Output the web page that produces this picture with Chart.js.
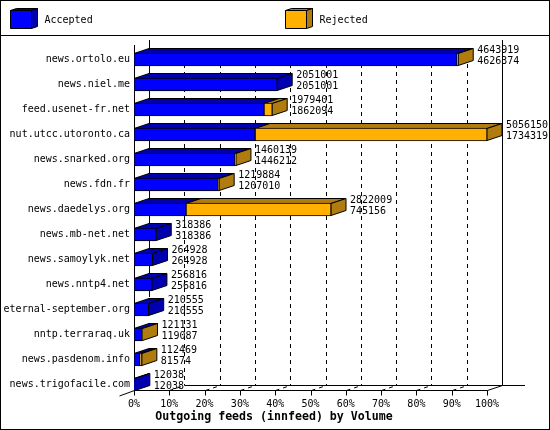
<!DOCTYPE html>
<html>
<head>
<meta charset="utf-8">
<title>Outgoing feeds</title>
<script src="https://cdn.jsdelivr.net/npm/chart.js@4/dist/chart.umd.min.js"></script>
<style>
    html, body { margin: 0; padding: 0; background: #fff; }
    canvas { display: block; }
</style>
</head>
<body>
<canvas id="feeds-chart" width="550" height="430"></canvas>
<script>
const categories = ['news.ortolo.eu', 'news.niel.me', 'feed.usenet-fr.net', 'nut.utcc.utoronto.ca',
    'news.snarked.org', 'news.fdn.fr', 'news.daedelys.org', 'news.mb-net.net', 'news.samoylyk.net',
    'news.nntp4.net', 'eternal-september.org', 'nntp.terraraq.uk', 'news.pasdenom.info', 'news.trigofacile.com'];
const offered = [4643919, 2051001, 1979401, 5056150, 1460139, 1219884, 2822009,
    318386, 264928, 256816, 210555, 121131, 112469, 12038];
const accepted = [4626374, 2051001, 1862094, 1734319, 1446212, 1207010, 745156,
    318386, 264928, 256816, 210555, 119087, 81574, 12038];
const rejected = offered.map((v, i) => v - accepted[i]);
const xTickLabels = ['0%', '10%', '20%', '30%', '40%', '50%', '60%', '70%', '80%', '90%', '100%'];
const xTitle = 'Outgoing feeds (innfeed) by Volume';

const FONT = '"DejaVu Sans Mono", monospace';
const BLUE = '#0000ff', BLUE_DARK = '#0000b0';
const ORANGE = '#ffb000', ORANGE_DARK = '#b07c10';
const DX = 15, DY = 5;

function poly(ctx, pts, fill) {
    ctx.beginPath();
    pts.forEach((p, i) => i ? ctx.lineTo(p[0], p[1]) : ctx.moveTo(p[0], p[1]));
    ctx.closePath();
    ctx.fillStyle = fill;
    ctx.fill();
    ctx.stroke();
}

function line(ctx, x0, y0, x1, y1) {
    ctx.beginPath();
    ctx.moveTo(x0, y0);
    ctx.lineTo(x1, y1);
    ctx.stroke();
}

function legendCube(ctx, x, label, front, dark) {
    const x1 = x + 21, top = 10.5, bottom = 28.5;
    poly(ctx, [[x, top], [x + 6, top - 2], [x1 + 6, top - 2], [x1, top]], dark);
    poly(ctx, [[x1, top], [x1 + 6, top - 2], [x1 + 6, bottom - 2], [x1, bottom]], dark);
    poly(ctx, [[x, top], [x1, top], [x1, bottom], [x, bottom]], front);
    ctx.fillStyle = '#000';
    ctx.font = '10px ' + FONT;
    ctx.textAlign = 'left';
    ctx.textBaseline = 'middle';
    ctx.fillText(label, x1 + 13, 20);
}

// frame, legend, back wall and floor go under the bars
const backdrop = {
    id: 'backdrop',
    beforeDatasetsDraw(chart) {
        const ctx = chart.ctx, xs = chart.scales.x;
        const floor = 390.5, back = floor - DY;
        ctx.save();
        ctx.strokeStyle = '#000';
        ctx.lineWidth = 1;

        ctx.lineWidth = 2;
        ctx.strokeRect(0, 0, 550, 430);
        ctx.lineWidth = 1;
        line(ctx, 0, 35.5, 550, 35.5);

        legendCube(ctx, 10.5, chart.data.datasets[0].label, BLUE, BLUE_DARK);
        legendCube(ctx, 285.5, chart.data.datasets[1].label, ORANGE, ORANGE_DARK);

        const px = xs.ticks.map(t => Math.round(xs.getPixelForValue(t.value)) + 0.5);
        const last = px.length - 1;

        // walls
        line(ctx, px[0], 45, px[0], floor);
        line(ctx, px[0] + DX, 40, px[0] + DX, 297);
        line(ctx, px[last] + DX, 40, px[last] + DX, back);

        // floor
        line(ctx, px[0], floor, px[last], floor);
        line(ctx, px[1] + DX, back, 525, back);
        line(ctx, px[0] - DX, floor + DY + 0.5, px[0], floor);
        line(ctx, px[last], floor, px[last] + DX, back);

        px.forEach((x, i) => {
            line(ctx, x, floor, x, floor + 5);
            if (i === 0 || i === last) return;
            ctx.setLineDash([4, 4]);
            line(ctx, x + DX, 48, x + DX, back);
            line(ctx, x, floor, x + DX, back);
            ctx.setLineDash([]);
        });

        // top and side faces of the bars
        const metas = [chart.getDatasetMeta(0), chart.getDatasetMeta(1)];
        const darks = [BLUE_DARK, ORANGE_DARK];
        categories.forEach((c, i) => {
            let end = null, endDark = BLUE_DARK, top = 0, bottom = 0;
            metas.forEach((meta, d) => {
                if (chart.data.datasets[d].data[i] <= 0) return;
                const bar = meta.data[i];
                top = bar.y - bar.height / 2 + 0.5;
                bottom = bar.y + bar.height / 2 - 0.5;
                poly(ctx, [[bar.base, top], [bar.base + DX, top - DY], [bar.x + DX, top - DY], [bar.x, top]], darks[d]);
                end = bar.x;
                endDark = darks[d];
            });
            poly(ctx, [[end, top], [end + DX, top - DY], [end + DX, bottom - DY], [end, bottom]], endDark);
        });
        ctx.restore();
    }
};

// the two figures next to each bar, and the axis title centred on the page
const valueLabels = {
    id: 'valueLabels',
    afterDatasetsDraw(chart) {
        const ctx = chart.ctx, xs = chart.scales.x, ys = chart.scales.y;
        ctx.save();
        ctx.fillStyle = '#000';
        ctx.font = '10px ' + FONT;
        ctx.textAlign = 'left';
        ctx.textBaseline = 'middle';
        offered.forEach((v, i) => {
            const x = xs.getPixelForValue(v) + DX + 4;
            const y = ys.getPixelForValue(i);
            ctx.fillText(String(v), x, y - 9.5);
            ctx.fillText(String(accepted[i]), x, y + 1.5);
        });
        ctx.font = 'bold 11.6px ' + FONT;
        ctx.textAlign = 'center';
        ctx.fillText(xTitle, 274, 417);
        ctx.restore();
    }
};

new Chart(document.getElementById('feeds-chart').getContext('2d'), {
    type: 'bar',
    plugins: [backdrop, valueLabels],
    data: {
        labels: categories,
        datasets: [
            { label: 'Accepted', data: accepted, backgroundColor: BLUE, borderColor: '#000', borderWidth: 1, borderSkipped: false, barThickness: 13 },
            { label: 'Rejected', data: rejected, backgroundColor: ORANGE, borderColor: '#000', borderWidth: 1, borderSkipped: false, barThickness: 13 }
        ]
    },
    options: {
        indexAxis: 'y',
        responsive: false,
        animation: false,
        layout: { padding: { top: 47, right: 63, left: 0, bottom: 19 } },
        plugins: {
            legend: { display: false },
            tooltip: { enabled: false },
            title: { display: false }
        },
        scales: {
            x: {
                stacked: true,
                min: 0,
                max: Math.max(...offered),
                grid: { display: false, drawTicks: false, tickLength: 0 },
                border: { display: false },
                afterBuildTicks(scale) {
                    scale.ticks = xTickLabels.map((t, i) => ({ value: scale.max * i / 10 }));
                },
                afterFit(scale) { scale.height = 14; },
                ticks: {
                    color: '#000',
                    font: { family: FONT, size: 10 },
                    padding: 1,
                    autoSkip: false,
                    maxRotation: 0,
                    callback: (v, i) => xTickLabels[i]
                }
            },
            y: {
                stacked: true,
                grid: { display: false, drawTicks: false, tickLength: 0 },
                border: { display: false },
                afterFit(scale) { scale.width = 134; },
                ticks: { color: '#000', font: { family: FONT, size: 10 }, padding: 4, autoSkip: false }
            }
        }
    }
});
</script>
</body>
</html>
